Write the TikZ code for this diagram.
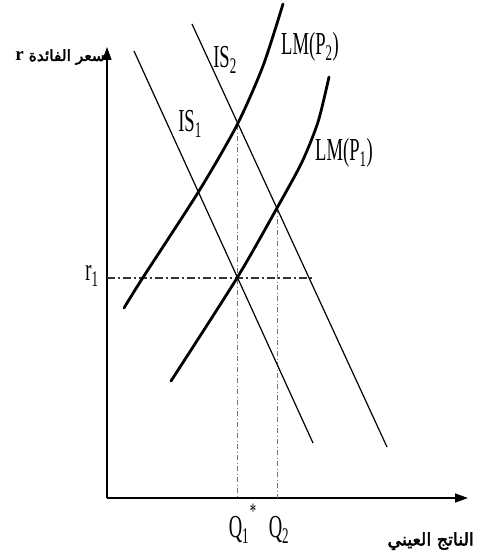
\documentclass[tikz,border=0pt]{standalone}
\usepackage{fontspec}
\setmainfont[FakeStretch=0.58]{Liberation Serif}
\newfontfamily\arabicfont[Script=Arabic,FakeBold=2.5]{DejaVu Sans}
\newfontfamily\latinbold{Liberation Serif}
\TeXXeTstate=1
\usetikzlibrary{arrows.meta}
\begin{document}
\begin{tikzpicture}[x=1pt,y=-1pt,
  axis/.style={line width=1.4pt,-{Triangle[length=13pt,width=9pt]}},
  isline/.style={line width=1.2pt},
  lmline/.style={line width=2.8pt,line cap=round},
  guidev/.style={line width=1pt,black!55,dash pattern=on 5pt off 2.5pt on 1pt off 2.5pt},
  guideh/.style={line width=1.4pt,black!80,dash pattern=on 8pt off 3pt on 2pt off 3pt},
  lbl/.style={inner sep=0pt,font=\fontsize{32}{32}\selectfont},
  arlbl/.style={inner sep=0pt,font=\arabicfont\fontsize{15.5}{18}\selectfont}]
\useasboundingbox (0,0) rectangle (478,559);
% axes
\coordinate (O) at (107,498);
\coordinate (ytop) at (107,47);
\coordinate (xend) at (468,498);
\draw[axis] (O) -- (ytop);
\draw[axis] (O) -- (xend);
% equilibrium points
\coordinate (E1) at (237,278);
\coordinate (E2) at (237,125);
\coordinate (E3) at (277,208);
\coordinate (Q1) at (237,498);
\coordinate (Q2) at (277,498);
\coordinate (R1) at (107,278);
\coordinate (Hend) at (313,278);
% guides
\draw[guidev] (E2) -- (Q1);
\draw[guidev] (E3) -- (Q2);
\draw[guideh] (R1) -- (Hend);
% IS curves
\coordinate (IS1a) at (134,51);
\coordinate (IS1b) at (313,443);
\coordinate (IS2a) at (192,24);
\coordinate (IS2b) at (387,447);
\draw[isline] (IS1a) -- (IS1b);
\draw[isline] (IS2a) -- (IS2b);
% LM curves
\draw[lmline] plot[smooth,tension=0.45] coordinates {(124,308) (142,279) (199,191) (237,125) (263,66) (283,4)};
\draw[lmline] plot[smooth,tension=0.45] coordinates {(171,381) (237,278) (277,208) (302,162) (318,122) (329,77)};
% labels
\node[lbl] (lIS2) at (225,60) {IS\textsubscript{2}};
\node[lbl] (lLM2) at (310,47) {LM(P\textsubscript{2})};
\node[lbl] (lIS1) at (190,124) {IS\textsubscript{1}};
\node[lbl] (lLM1) at (344,153) {LM(P\textsubscript{1})};
\node[lbl] (lr1) at (92,276) {r\textsubscript{1}};
\node[lbl] (lQ1) at (239,530) {Q\textsubscript{1}};
\node[inner sep=0pt,font=\fontsize{22}{22}\selectfont] (ast) at (253,511) {*};
\node[lbl] (lQ2) at (279,530) {Q\textsubscript{2}};
\node[arlbl,anchor=east,font=\arabicfont\fontsize{17.5}{20}\selectfont] (xlab) at (474,541) {\beginR الناتج العيني\endR};
\node[arlbl,anchor=east] (ylab) at (105,57) {\beginR سعر الفائدة {\latinbold\bfseries\fontsize{19}{19}\selectfont r}\endR};
\end{tikzpicture}
\end{document}
